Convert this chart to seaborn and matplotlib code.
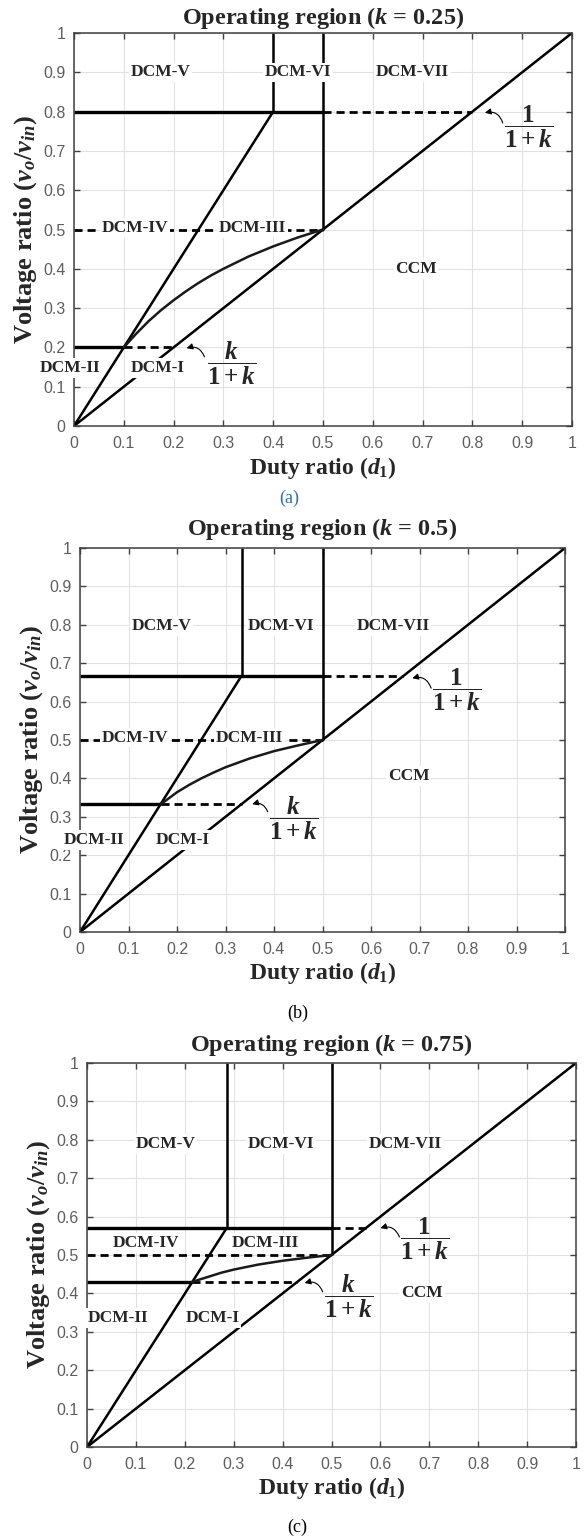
import matplotlib
matplotlib.use("Agg")
import matplotlib.pyplot as plt
import seaborn as sns

# ---------------- data ----------------
K_VALUES = [0.25, 0.5, 0.75]
UPPER_LEVEL = [0.8, 0.667, 0.571]        # 1/(1+k)
LOWER_LEVEL = [0.2, 0.333, 0.429]        # k/(1+k)
STEEP_END_D = [0.4, 0.333, 0.286]        # end of steep boundary / vertical line
LOWER_CROSS_D = [0.1, 0.167, 0.214]      # steep line meets lower level

CURVE_D_A = [0.1, 0.125, 0.15, 0.175, 0.2, 0.225, 0.25, 0.275, 0.3, 0.35, 0.4, 0.45, 0.5]
CURVE_V_A = [0.2, 0.235, 0.267, 0.295, 0.32, 0.343, 0.364, 0.383, 0.4, 0.431, 0.457, 0.48, 0.5]
CURVE_D_B = [0.167, 0.2, 0.225, 0.25, 0.275, 0.3, 0.35, 0.4, 0.45, 0.5]
CURVE_V_B = [0.333, 0.364, 0.383, 0.4, 0.415, 0.429, 0.452, 0.471, 0.486, 0.5]
CURVE_D_C = [0.214, 0.225, 0.25, 0.275, 0.3, 0.35, 0.4, 0.45, 0.5]
CURVE_V_C = [0.429, 0.434, 0.444, 0.454, 0.462, 0.475, 0.485, 0.493, 0.5]
CURVES = [(CURVE_D_A, CURVE_V_A), (CURVE_D_B, CURVE_V_B), (CURVE_D_C, CURVE_V_C)]

TICKS = [0, 0.1, 0.2, 0.3, 0.4, 0.5, 0.6, 0.7, 0.8, 0.9, 1]
TICK_LABELS = ["0", "0.1", "0.2", "0.3", "0.4", "0.5", "0.6", "0.7", "0.8", "0.9", "1"]

REGION_NAMES = ["DCM-V", "DCM-VI", "DCM-VII", "DCM-IV", "DCM-III", "CCM", "DCM-II", "DCM-I"]
REGION_POS_A = [(0.174, 0.9), (0.449, 0.9), (0.68, 0.9), (0.123, 0.504), (0.358, 0.504),
                (0.686, 0.4), (-0.008, 0.148), (0.168, 0.148)]
REGION_POS_B = [(0.168, 0.797), (0.415, 0.797), (0.645, 0.797), (0.114, 0.506), (0.349, 0.506),
                (0.678, 0.406), (0.029, 0.24), (0.212, 0.24)]
REGION_POS_C = [(0.161, 0.789), (0.396, 0.789), (0.651, 0.789), (0.121, 0.531), (0.365, 0.531),
                (0.685, 0.401), (0.063, 0.336), (0.257, 0.336)]
REGION_POS = [REGION_POS_A, REGION_POS_B, REGION_POS_C]

# fraction annotations: (label centre, arrow tip, arrow tail)
FRAC_UP = [((0.912, 0.763), (0.825, 0.797), (0.861, 0.771)),
           ((0.777, 0.630), (0.685, 0.661), (0.724, 0.635)),
           ((0.691, 0.542), (0.600, 0.570), (0.639, 0.547))]
FRAC_LO = [((0.316, 0.160), (0.226, 0.198), (0.262, 0.176)),
           ((0.441, 0.297), (0.355, 0.333), (0.387, 0.313)),
           ((0.535, 0.393), (0.445, 0.427), (0.482, 0.404))]

PANEL_TAGS = ["(a)", "(b)", "(c)"]
TAG_COLORS = ["#2f6fb3", "black", "black"]

# ---------------- style ----------------
sns.set_theme(style="white")
plt.rcParams["font.family"] = ["Liberation Serif", "DejaVu Serif"]
plt.rcParams["mathtext.fontset"] = "custom"
plt.rcParams["mathtext.rm"] = "Liberation Serif:bold"
plt.rcParams["mathtext.it"] = "Liberation Serif:italic:bold"
plt.rcParams["mathtext.bf"] = "Liberation Serif:bold"

W, H = 585, 1537
fig = plt.figure(figsize=(W / 100, H / 100), dpi=100)
PANELS_PX = [(74, 572, 33, 426), (80, 565, 548, 932), (87, 576, 1063, 1447)]
TAG_PX = [(289, 498), (298, 1013), (297, 1527)]
XLABEL_PX = [468, 973, 1488]
TITLE_PX = [18, 529, 1045]

DASH = (0, (2.9, 1.8))

for i in range(3):
    l, r, t, b = PANELS_PX[i]
    ax = fig.add_axes([l / W, 1 - b / H, (r - l) / W, (b - t) / H])
    k = K_VALUES[i]
    up, lo = UPPER_LEVEL[i], LOWER_LEVEL[i]
    ds, dl = STEEP_END_D[i], LOWER_CROSS_D[i]

    solid_thin = [
        ([0, 1], [0, 1]),
        ([0, ds], [0, up]),
        ([ds, ds], [up, 1]),
        ([0.5, 0.5], [0.5, 1]),
    ]
    solid_thick = [
        ([0, 0.5], [up, up]),
        ([0, dl], [lo, lo]),
    ]
    dashed = [
        ([0.5, up], [up, up]),
        ([dl, lo], [lo, lo]),
        ([0, 0.5], [0.5, 0.5]),
    ]
    for xs, ys in solid_thin:
        sns.lineplot(x=xs, y=ys, ax=ax, sort=False, estimator=None, color="black",
                     lw=1.8, solid_capstyle="butt", zorder=3)
    for xs, ys in solid_thick:
        sns.lineplot(x=xs, y=ys, ax=ax, sort=False, estimator=None, color="black",
                     lw=2.4, solid_capstyle="butt", zorder=3)
    for xs, ys in dashed:
        sns.lineplot(x=xs, y=ys, ax=ax, sort=False, estimator=None, color="black",
                     lw=2.0, linestyle=DASH, zorder=3)
    cd, cv = CURVES[i]
    sns.lineplot(x=cd, y=cv, ax=ax, sort=False, estimator=None, color="#1a1a1a",
                 lw=1.8, zorder=3)

    ax.set_xlim(0, 1)
    ax.set_ylim(0, 1)
    ax.set_xticks(TICKS)
    ax.set_yticks(TICKS)
    ax.set_xticklabels(TICK_LABELS, family="Liberation Sans", fontsize=11.5, color="#5e5e5e")
    ax.set_yticklabels(TICK_LABELS, family="Liberation Sans", fontsize=11.5, color="#5e5e5e")
    ax.tick_params(direction="in", length=4, width=1, color="#404040",
                   top=True, right=True, bottom=True, left=True)
    ax.tick_params(axis="x", pad=7)
    ax.tick_params(axis="y", pad=6)
    ax.grid(True, color="#e2e2e2", lw=0.8, zorder=0)
    for sp in ax.spines.values():
        sp.set_color("#404040")
        sp.set_linewidth(1.1)
        sp.set_zorder(4)

    ax.set_title(f"Operating region ($k$ = {k:g})", fontsize=17.5, fontweight="bold",
                 y=(b - TITLE_PX[i]) / (b - t), va="center", pad=0)
    ax.set_xlabel(r"Duty ratio ($d_1$)", fontsize=17, fontweight="bold")
    ax.xaxis.set_label_coords(0.5, (b - XLABEL_PX[i]) / (b - t))
    ax.xaxis.label.set_va("center")
    ax.set_ylabel(r"Voltage ratio ($v_o$/$v_{in}$)", fontsize=19, fontweight="bold")
    ax.yaxis.set_label_coords(-48 / (r - l), 0.5)
    ax.yaxis.label.set_va("center")

    for name, (px, py) in zip(REGION_NAMES, REGION_POS[i]):
        ax.text(px, py, name, ha="center", va="center", fontsize=12.5, fontweight="bold",
                zorder=6, clip_on=False,
                bbox=dict(facecolor="white", edgecolor="none", pad=1.2))

    for (cxy, tip, tail), num in ((FRAC_UP[i], "1"), (FRAC_LO[i], "k")):
        ax.text(cxy[0], cxy[1], r"$\dfrac{%s}{1+k}$" % num, ha="center", va="center",
                fontsize=18, zorder=6)
        ax.annotate("", xy=tip, xytext=tail,
                    arrowprops=dict(arrowstyle="-|>", connectionstyle="arc3,rad=0.45",
                                    color="black", lw=0.8, mutation_scale=9,
                                    shrinkA=0, shrinkB=0), zorder=6)

    fig.text(TAG_PX[i][0] / W, 1 - TAG_PX[i][1] / H, PANEL_TAGS[i], ha="center", va="center",
             fontsize=13, color=TAG_COLORS[i], family="Liberation Serif")

fig.savefig("out.png", dpi=100)
